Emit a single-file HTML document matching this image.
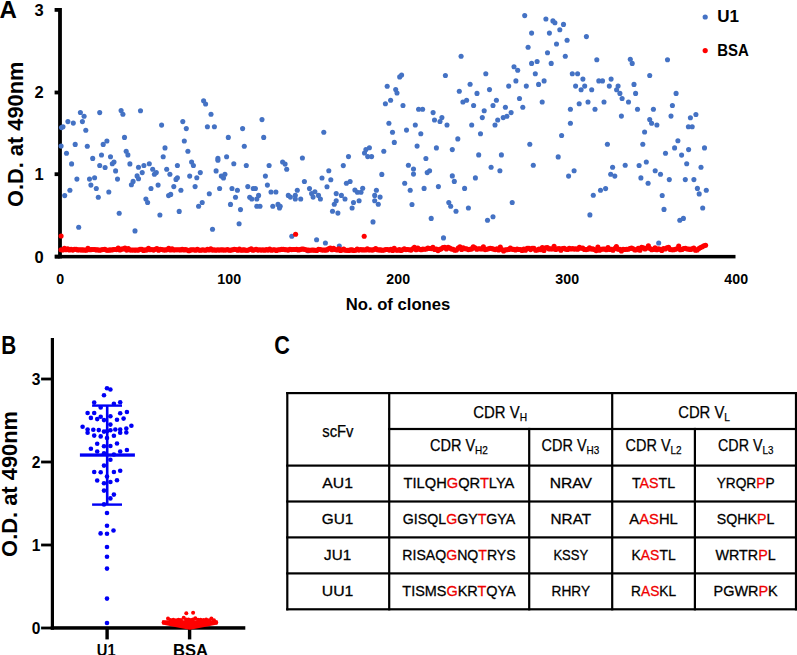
<!DOCTYPE html><html><head><meta charset="utf-8"><style>html,body{margin:0;padding:0;background:#fff;overflow:hidden;}svg{display:block}text{font-family:"Liberation Sans",sans-serif}</style></head><body>
<svg width="797" height="655" viewBox="0 0 797 655">
<rect x="0" y="0" width="797" height="655" fill="#fff"/>
<text x="-0.5" y="17.9" font-size="23.5" font-weight="bold" textLength="17.4" lengthAdjust="spacingAndGlyphs">A</text>
<rect x="58.1" y="8" width="3.8" height="250.4" fill="#000"/>
<rect x="54.6" y="8.0" width="5" height="3.8" fill="#000"/>
<text x="43.6" y="15.8" font-size="16.5" font-weight="bold" text-anchor="end">3</text>
<rect x="54.6" y="90.6" width="5" height="3.8" fill="#000"/>
<text x="43.6" y="98.4" font-size="16.5" font-weight="bold" text-anchor="end">2</text>
<rect x="54.6" y="172.3" width="5" height="3.8" fill="#000"/>
<text x="43.6" y="180.1" font-size="16.5" font-weight="bold" text-anchor="end">1</text>
<rect x="54.6" y="254.7" width="5" height="3.8" fill="#000"/>
<text x="43.6" y="262.5" font-size="16.5" font-weight="bold" text-anchor="end">0</text>
<rect x="55" y="254.9" width="680.5" height="3.5" fill="#000"/>
<text x="60.2" y="283.7" font-size="14.2" font-weight="bold" text-anchor="middle">0</text>
<text x="229.2" y="283.7" font-size="14.2" font-weight="bold" text-anchor="middle">100</text>
<text x="398.2" y="283.7" font-size="14.2" font-weight="bold" text-anchor="middle">200</text>
<text x="567.2" y="283.7" font-size="14.2" font-weight="bold" text-anchor="middle">300</text>
<text x="736.2" y="283.7" font-size="14.2" font-weight="bold" text-anchor="middle">400</text>
<text x="398" y="309.5" font-size="16.5" font-weight="bold" text-anchor="middle" textLength="104.5" lengthAdjust="spacingAndGlyphs">No. of clones</text>
<text transform="translate(22.9,134.3) rotate(-90)" x="0" y="0" font-size="22.9" font-weight="bold" text-anchor="middle" textLength="145.5" lengthAdjust="spacingAndGlyphs">O.D. at 490nm</text>
<circle cx="705.2" cy="17" r="2.6" fill="#4472C4"/>
<circle cx="705.2" cy="50.6" r="2.6" fill="#F00"/>
<text x="717.2" y="22.4" font-size="17" font-weight="bold" textLength="21.8" lengthAdjust="spacingAndGlyphs">U1</text>
<text x="717.2" y="55.9" font-size="16.6" font-weight="bold" textLength="31.6" lengthAdjust="spacingAndGlyphs">BSA</text>
<g fill="#4472C4">
<circle cx="61.5" cy="127.6" r="2.55"/>
<circle cx="63.0" cy="126.7" r="2.55"/>
<circle cx="61.1" cy="146.1" r="2.55"/>
<circle cx="67.9" cy="121.6" r="2.55"/>
<circle cx="73.3" cy="123.1" r="2.55"/>
<circle cx="66.5" cy="153.3" r="2.55"/>
<circle cx="71.6" cy="163.9" r="2.55"/>
<circle cx="75.2" cy="144.4" r="2.55"/>
<circle cx="80.4" cy="112.5" r="2.55"/>
<circle cx="84.1" cy="116.2" r="2.55"/>
<circle cx="82.4" cy="121.6" r="2.55"/>
<circle cx="85.8" cy="130.3" r="2.55"/>
<circle cx="87.3" cy="146.2" r="2.55"/>
<circle cx="76.9" cy="179.1" r="2.55"/>
<circle cx="92.7" cy="158.4" r="2.55"/>
<circle cx="99.7" cy="112.6" r="2.55"/>
<circle cx="89.5" cy="179.1" r="2.55"/>
<circle cx="94.6" cy="177.7" r="2.55"/>
<circle cx="103.2" cy="144.4" r="2.55"/>
<circle cx="106.9" cy="141.0" r="2.55"/>
<circle cx="101.5" cy="155.0" r="2.55"/>
<circle cx="99.7" cy="165.5" r="2.55"/>
<circle cx="105.1" cy="167.5" r="2.55"/>
<circle cx="110.5" cy="156.7" r="2.55"/>
<circle cx="112.3" cy="163.8" r="2.55"/>
<circle cx="114.0" cy="162.0" r="2.55"/>
<circle cx="115.6" cy="170.9" r="2.55"/>
<circle cx="117.5" cy="179.1" r="2.55"/>
<circle cx="121.1" cy="110.6" r="2.55"/>
<circle cx="122.9" cy="114.3" r="2.55"/>
<circle cx="124.5" cy="137.4" r="2.55"/>
<circle cx="126.2" cy="151.2" r="2.55"/>
<circle cx="127.9" cy="154.9" r="2.55"/>
<circle cx="129.9" cy="163.9" r="2.55"/>
<circle cx="138.5" cy="167.3" r="2.55"/>
<circle cx="140.5" cy="110.8" r="2.55"/>
<circle cx="142.2" cy="172.6" r="2.55"/>
<circle cx="143.9" cy="165.5" r="2.55"/>
<circle cx="137.1" cy="175.9" r="2.55"/>
<circle cx="138.5" cy="178.8" r="2.55"/>
<circle cx="149.3" cy="163.8" r="2.55"/>
<circle cx="152.7" cy="169.2" r="2.55"/>
<circle cx="154.4" cy="174.3" r="2.55"/>
<circle cx="156.3" cy="172.6" r="2.55"/>
<circle cx="161.6" cy="125.1" r="2.55"/>
<circle cx="165.0" cy="147.9" r="2.55"/>
<circle cx="163.2" cy="156.7" r="2.55"/>
<circle cx="166.7" cy="169.2" r="2.55"/>
<circle cx="169.9" cy="174.3" r="2.55"/>
<circle cx="64.7" cy="195.6" r="2.55"/>
<circle cx="69.9" cy="190.3" r="2.55"/>
<circle cx="90.9" cy="185.1" r="2.55"/>
<circle cx="96.3" cy="188.5" r="2.55"/>
<circle cx="98.3" cy="197.3" r="2.55"/>
<circle cx="108.8" cy="192.0" r="2.55"/>
<circle cx="78.7" cy="227.3" r="2.55"/>
<circle cx="119.2" cy="213.3" r="2.55"/>
<circle cx="131.4" cy="184.8" r="2.55"/>
<circle cx="133.1" cy="181.4" r="2.55"/>
<circle cx="135.0" cy="230.9" r="2.55"/>
<circle cx="145.9" cy="199.0" r="2.55"/>
<circle cx="147.6" cy="202.5" r="2.55"/>
<circle cx="151.0" cy="188.5" r="2.55"/>
<circle cx="158.1" cy="185.1" r="2.55"/>
<circle cx="159.9" cy="215.0" r="2.55"/>
<circle cx="168.6" cy="195.6" r="2.55"/>
<circle cx="170.7" cy="194.4" r="2.55"/>
<circle cx="203.6" cy="100.7" r="2.55"/>
<circle cx="205.6" cy="104.0" r="2.55"/>
<circle cx="211.0" cy="114.3" r="2.55"/>
<circle cx="182.8" cy="121.6" r="2.55"/>
<circle cx="186.3" cy="128.6" r="2.55"/>
<circle cx="207.4" cy="126.7" r="2.55"/>
<circle cx="214.4" cy="126.7" r="2.55"/>
<circle cx="242.6" cy="128.6" r="2.55"/>
<circle cx="262.0" cy="119.6" r="2.55"/>
<circle cx="228.3" cy="137.4" r="2.55"/>
<circle cx="263.7" cy="137.4" r="2.55"/>
<circle cx="184.3" cy="141.0" r="2.55"/>
<circle cx="244.3" cy="146.2" r="2.55"/>
<circle cx="187.9" cy="151.3" r="2.55"/>
<circle cx="217.9" cy="158.4" r="2.55"/>
<circle cx="217.9" cy="160.3" r="2.55"/>
<circle cx="226.6" cy="156.7" r="2.55"/>
<circle cx="191.6" cy="162.0" r="2.55"/>
<circle cx="193.4" cy="165.5" r="2.55"/>
<circle cx="177.4" cy="165.5" r="2.55"/>
<circle cx="233.8" cy="163.8" r="2.55"/>
<circle cx="246.3" cy="165.5" r="2.55"/>
<circle cx="269.1" cy="165.5" r="2.55"/>
<circle cx="282.6" cy="162.0" r="2.55"/>
<circle cx="176.0" cy="179.4" r="2.55"/>
<circle cx="177.4" cy="177.7" r="2.55"/>
<circle cx="189.7" cy="176.1" r="2.55"/>
<circle cx="196.8" cy="177.7" r="2.55"/>
<circle cx="200.3" cy="172.6" r="2.55"/>
<circle cx="216.1" cy="170.9" r="2.55"/>
<circle cx="221.3" cy="176.1" r="2.55"/>
<circle cx="224.9" cy="174.3" r="2.55"/>
<circle cx="223.5" cy="178.0" r="2.55"/>
<circle cx="265.4" cy="176.1" r="2.55"/>
<circle cx="173.8" cy="186.6" r="2.55"/>
<circle cx="180.9" cy="190.3" r="2.55"/>
<circle cx="195.1" cy="186.6" r="2.55"/>
<circle cx="209.3" cy="193.7" r="2.55"/>
<circle cx="219.6" cy="188.5" r="2.55"/>
<circle cx="232.0" cy="188.5" r="2.55"/>
<circle cx="237.4" cy="190.3" r="2.55"/>
<circle cx="247.8" cy="186.6" r="2.55"/>
<circle cx="253.2" cy="188.5" r="2.55"/>
<circle cx="255.4" cy="188.5" r="2.55"/>
<circle cx="267.4" cy="185.1" r="2.55"/>
<circle cx="271.0" cy="192.0" r="2.55"/>
<circle cx="275.9" cy="192.0" r="2.55"/>
<circle cx="235.5" cy="197.3" r="2.55"/>
<circle cx="249.7" cy="197.3" r="2.55"/>
<circle cx="251.8" cy="199.0" r="2.55"/>
<circle cx="256.8" cy="199.0" r="2.55"/>
<circle cx="258.6" cy="195.4" r="2.55"/>
<circle cx="202.2" cy="202.5" r="2.55"/>
<circle cx="198.6" cy="206.2" r="2.55"/>
<circle cx="230.5" cy="204.4" r="2.55"/>
<circle cx="240.5" cy="209.6" r="2.55"/>
<circle cx="256.8" cy="206.2" r="2.55"/>
<circle cx="260.0" cy="206.2" r="2.55"/>
<circle cx="272.8" cy="206.2" r="2.55"/>
<circle cx="278.0" cy="204.4" r="2.55"/>
<circle cx="280.2" cy="206.2" r="2.55"/>
<circle cx="279.5" cy="207.9" r="2.55"/>
<circle cx="179.2" cy="211.4" r="2.55"/>
<circle cx="239.1" cy="223.8" r="2.55"/>
<circle cx="212.5" cy="229.2" r="2.55"/>
<circle cx="387.2" cy="86.2" r="2.55"/>
<circle cx="395.7" cy="89.6" r="2.55"/>
<circle cx="397.0" cy="93.0" r="2.55"/>
<circle cx="390.6" cy="100.3" r="2.55"/>
<circle cx="385.4" cy="103.8" r="2.55"/>
<circle cx="388.9" cy="123.2" r="2.55"/>
<circle cx="392.5" cy="132.2" r="2.55"/>
<circle cx="394.3" cy="142.4" r="2.55"/>
<circle cx="323.8" cy="132.2" r="2.55"/>
<circle cx="383.8" cy="151.3" r="2.55"/>
<circle cx="348.5" cy="156.6" r="2.55"/>
<circle cx="302.4" cy="158.0" r="2.55"/>
<circle cx="364.5" cy="153.0" r="2.55"/>
<circle cx="365.9" cy="149.5" r="2.55"/>
<circle cx="369.4" cy="147.8" r="2.55"/>
<circle cx="367.7" cy="156.6" r="2.55"/>
<circle cx="371.6" cy="156.6" r="2.55"/>
<circle cx="328.8" cy="170.7" r="2.55"/>
<circle cx="322.0" cy="178.0" r="2.55"/>
<circle cx="330.8" cy="179.7" r="2.55"/>
<circle cx="343.3" cy="165.6" r="2.55"/>
<circle cx="381.8" cy="174.4" r="2.55"/>
<circle cx="304.4" cy="181.5" r="2.55"/>
<circle cx="327.0" cy="186.8" r="2.55"/>
<circle cx="346.4" cy="183.2" r="2.55"/>
<circle cx="350.1" cy="181.5" r="2.55"/>
<circle cx="297.3" cy="190.3" r="2.55"/>
<circle cx="309.5" cy="188.6" r="2.55"/>
<circle cx="288.3" cy="195.4" r="2.55"/>
<circle cx="290.4" cy="197.1" r="2.55"/>
<circle cx="295.3" cy="195.4" r="2.55"/>
<circle cx="295.3" cy="199.0" r="2.55"/>
<circle cx="300.7" cy="199.0" r="2.55"/>
<circle cx="311.6" cy="193.6" r="2.55"/>
<circle cx="314.9" cy="191.7" r="2.55"/>
<circle cx="313.1" cy="197.1" r="2.55"/>
<circle cx="318.5" cy="195.4" r="2.55"/>
<circle cx="320.4" cy="199.0" r="2.55"/>
<circle cx="336.2" cy="193.6" r="2.55"/>
<circle cx="341.4" cy="195.4" r="2.55"/>
<circle cx="345.0" cy="199.0" r="2.55"/>
<circle cx="336.2" cy="200.7" r="2.55"/>
<circle cx="334.3" cy="204.2" r="2.55"/>
<circle cx="332.5" cy="211.3" r="2.55"/>
<circle cx="337.9" cy="213.1" r="2.55"/>
<circle cx="354.9" cy="190.0" r="2.55"/>
<circle cx="357.4" cy="192.2" r="2.55"/>
<circle cx="361.0" cy="192.2" r="2.55"/>
<circle cx="362.7" cy="188.3" r="2.55"/>
<circle cx="353.5" cy="202.5" r="2.55"/>
<circle cx="359.1" cy="200.8" r="2.55"/>
<circle cx="352.1" cy="208.0" r="2.55"/>
<circle cx="376.4" cy="190.3" r="2.55"/>
<circle cx="374.7" cy="195.4" r="2.55"/>
<circle cx="380.1" cy="197.1" r="2.55"/>
<circle cx="374.7" cy="200.7" r="2.55"/>
<circle cx="378.3" cy="204.2" r="2.55"/>
<circle cx="373.0" cy="221.9" r="2.55"/>
<circle cx="291.8" cy="236.2" r="2.55"/>
<circle cx="316.6" cy="239.7" r="2.55"/>
<circle cx="325.4" cy="243.0" r="2.55"/>
<circle cx="308.1" cy="250.8" r="2.55"/>
<circle cx="339.3" cy="246.1" r="2.55"/>
<circle cx="461.1" cy="56.2" r="2.55"/>
<circle cx="445.4" cy="75.5" r="2.55"/>
<circle cx="485.8" cy="73.8" r="2.55"/>
<circle cx="399.7" cy="76.9" r="2.55"/>
<circle cx="401.6" cy="75.1" r="2.55"/>
<circle cx="403.0" cy="105.5" r="2.55"/>
<circle cx="418.6" cy="109.2" r="2.55"/>
<circle cx="422.6" cy="109.2" r="2.55"/>
<circle cx="433.1" cy="112.6" r="2.55"/>
<circle cx="441.9" cy="117.6" r="2.55"/>
<circle cx="459.3" cy="91.2" r="2.55"/>
<circle cx="470.1" cy="84.2" r="2.55"/>
<circle cx="477.0" cy="93.4" r="2.55"/>
<circle cx="489.5" cy="89.6" r="2.55"/>
<circle cx="508.7" cy="86.1" r="2.55"/>
<circle cx="462.9" cy="102.0" r="2.55"/>
<circle cx="466.6" cy="100.2" r="2.55"/>
<circle cx="473.6" cy="105.5" r="2.55"/>
<circle cx="496.4" cy="100.2" r="2.55"/>
<circle cx="493.0" cy="105.5" r="2.55"/>
<circle cx="484.2" cy="110.8" r="2.55"/>
<circle cx="505.4" cy="107.3" r="2.55"/>
<circle cx="482.3" cy="117.6" r="2.55"/>
<circle cx="503.2" cy="117.6" r="2.55"/>
<circle cx="506.9" cy="116.3" r="2.55"/>
<circle cx="434.5" cy="120.0" r="2.55"/>
<circle cx="497.7" cy="120.0" r="2.55"/>
<circle cx="440.0" cy="121.5" r="2.55"/>
<circle cx="495.0" cy="125.0" r="2.55"/>
<circle cx="415.3" cy="125.0" r="2.55"/>
<circle cx="406.5" cy="130.1" r="2.55"/>
<circle cx="420.8" cy="133.8" r="2.55"/>
<circle cx="447.0" cy="125.0" r="2.55"/>
<circle cx="471.7" cy="125.0" r="2.55"/>
<circle cx="480.5" cy="133.8" r="2.55"/>
<circle cx="457.8" cy="138.9" r="2.55"/>
<circle cx="417.1" cy="146.1" r="2.55"/>
<circle cx="436.4" cy="147.9" r="2.55"/>
<circle cx="452.3" cy="149.6" r="2.55"/>
<circle cx="478.7" cy="154.9" r="2.55"/>
<circle cx="501.4" cy="154.9" r="2.55"/>
<circle cx="425.9" cy="158.5" r="2.55"/>
<circle cx="408.4" cy="165.3" r="2.55"/>
<circle cx="413.5" cy="169.0" r="2.55"/>
<circle cx="413.5" cy="174.1" r="2.55"/>
<circle cx="427.2" cy="172.6" r="2.55"/>
<circle cx="429.6" cy="170.8" r="2.55"/>
<circle cx="491.1" cy="167.3" r="2.55"/>
<circle cx="499.9" cy="170.8" r="2.55"/>
<circle cx="452.3" cy="175.9" r="2.55"/>
<circle cx="454.3" cy="181.4" r="2.55"/>
<circle cx="475.4" cy="177.9" r="2.55"/>
<circle cx="404.7" cy="183.3" r="2.55"/>
<circle cx="410.2" cy="190.2" r="2.55"/>
<circle cx="424.1" cy="188.4" r="2.55"/>
<circle cx="438.4" cy="186.6" r="2.55"/>
<circle cx="464.6" cy="188.4" r="2.55"/>
<circle cx="412.0" cy="204.5" r="2.55"/>
<circle cx="448.8" cy="202.5" r="2.55"/>
<circle cx="450.7" cy="206.2" r="2.55"/>
<circle cx="456.0" cy="211.3" r="2.55"/>
<circle cx="468.4" cy="208.0" r="2.55"/>
<circle cx="431.2" cy="218.4" r="2.55"/>
<circle cx="487.5" cy="220.3" r="2.55"/>
<circle cx="493.0" cy="216.8" r="2.55"/>
<circle cx="443.5" cy="237.9" r="2.55"/>
<circle cx="524.7" cy="15.6" r="2.55"/>
<circle cx="545.9" cy="19.0" r="2.55"/>
<circle cx="552.9" cy="20.9" r="2.55"/>
<circle cx="554.9" cy="22.7" r="2.55"/>
<circle cx="563.5" cy="24.4" r="2.55"/>
<circle cx="559.8" cy="29.7" r="2.55"/>
<circle cx="531.6" cy="33.1" r="2.55"/>
<circle cx="549.4" cy="33.1" r="2.55"/>
<circle cx="586.4" cy="36.6" r="2.55"/>
<circle cx="567.1" cy="40.3" r="2.55"/>
<circle cx="556.5" cy="44.0" r="2.55"/>
<circle cx="528.1" cy="47.3" r="2.55"/>
<circle cx="547.5" cy="52.7" r="2.55"/>
<circle cx="565.3" cy="56.2" r="2.55"/>
<circle cx="596.8" cy="59.7" r="2.55"/>
<circle cx="531.6" cy="63.4" r="2.55"/>
<circle cx="537.1" cy="61.5" r="2.55"/>
<circle cx="551.2" cy="63.4" r="2.55"/>
<circle cx="514.0" cy="66.7" r="2.55"/>
<circle cx="517.7" cy="70.3" r="2.55"/>
<circle cx="535.3" cy="73.8" r="2.55"/>
<circle cx="572.3" cy="73.8" r="2.55"/>
<circle cx="577.6" cy="73.8" r="2.55"/>
<circle cx="582.9" cy="79.1" r="2.55"/>
<circle cx="515.9" cy="80.9" r="2.55"/>
<circle cx="544.1" cy="80.9" r="2.55"/>
<circle cx="538.6" cy="84.4" r="2.55"/>
<circle cx="526.3" cy="86.1" r="2.55"/>
<circle cx="575.6" cy="86.1" r="2.55"/>
<circle cx="584.7" cy="86.1" r="2.55"/>
<circle cx="581.1" cy="89.7" r="2.55"/>
<circle cx="591.7" cy="89.7" r="2.55"/>
<circle cx="598.8" cy="80.9" r="2.55"/>
<circle cx="602.5" cy="80.9" r="2.55"/>
<circle cx="611.1" cy="79.1" r="2.55"/>
<circle cx="609.3" cy="86.1" r="2.55"/>
<circle cx="618.1" cy="86.1" r="2.55"/>
<circle cx="616.6" cy="89.7" r="2.55"/>
<circle cx="619.9" cy="93.4" r="2.55"/>
<circle cx="622.1" cy="98.5" r="2.55"/>
<circle cx="519.5" cy="98.5" r="2.55"/>
<circle cx="542.2" cy="102.0" r="2.55"/>
<circle cx="522.8" cy="107.3" r="2.55"/>
<circle cx="511.1" cy="112.6" r="2.55"/>
<circle cx="579.2" cy="103.8" r="2.55"/>
<circle cx="588.0" cy="102.0" r="2.55"/>
<circle cx="604.0" cy="102.0" r="2.55"/>
<circle cx="570.4" cy="109.2" r="2.55"/>
<circle cx="595.0" cy="109.2" r="2.55"/>
<circle cx="621.4" cy="116.1" r="2.55"/>
<circle cx="570.4" cy="123.2" r="2.55"/>
<circle cx="561.6" cy="135.5" r="2.55"/>
<circle cx="529.8" cy="144.2" r="2.55"/>
<circle cx="607.4" cy="144.2" r="2.55"/>
<circle cx="558.2" cy="156.9" r="2.55"/>
<circle cx="533.3" cy="165.3" r="2.55"/>
<circle cx="574.1" cy="170.8" r="2.55"/>
<circle cx="568.6" cy="176.1" r="2.55"/>
<circle cx="612.6" cy="167.3" r="2.55"/>
<circle cx="610.7" cy="174.3" r="2.55"/>
<circle cx="614.8" cy="176.1" r="2.55"/>
<circle cx="600.5" cy="190.2" r="2.55"/>
<circle cx="605.6" cy="188.6" r="2.55"/>
<circle cx="593.3" cy="195.3" r="2.55"/>
<circle cx="512.2" cy="202.5" r="2.55"/>
<circle cx="589.9" cy="214.9" r="2.55"/>
<circle cx="630.3" cy="59.3" r="2.55"/>
<circle cx="632.2" cy="63.4" r="2.55"/>
<circle cx="667.5" cy="59.7" r="2.55"/>
<circle cx="649.7" cy="75.5" r="2.55"/>
<circle cx="634.0" cy="84.4" r="2.55"/>
<circle cx="635.6" cy="93.4" r="2.55"/>
<circle cx="676.1" cy="93.4" r="2.55"/>
<circle cx="628.5" cy="102.0" r="2.55"/>
<circle cx="672.4" cy="105.5" r="2.55"/>
<circle cx="637.5" cy="109.2" r="2.55"/>
<circle cx="653.4" cy="109.2" r="2.55"/>
<circle cx="671.0" cy="116.1" r="2.55"/>
<circle cx="695.9" cy="114.5" r="2.55"/>
<circle cx="690.4" cy="117.8" r="2.55"/>
<circle cx="649.7" cy="119.5" r="2.55"/>
<circle cx="651.6" cy="123.2" r="2.55"/>
<circle cx="656.9" cy="125.0" r="2.55"/>
<circle cx="644.6" cy="132.0" r="2.55"/>
<circle cx="688.4" cy="126.8" r="2.55"/>
<circle cx="692.2" cy="126.8" r="2.55"/>
<circle cx="677.9" cy="140.8" r="2.55"/>
<circle cx="642.8" cy="144.2" r="2.55"/>
<circle cx="674.6" cy="147.9" r="2.55"/>
<circle cx="665.5" cy="153.2" r="2.55"/>
<circle cx="688.6" cy="149.6" r="2.55"/>
<circle cx="681.6" cy="155.1" r="2.55"/>
<circle cx="704.5" cy="147.9" r="2.55"/>
<circle cx="625.2" cy="165.3" r="2.55"/>
<circle cx="639.1" cy="165.5" r="2.55"/>
<circle cx="646.3" cy="162.0" r="2.55"/>
<circle cx="686.7" cy="163.8" r="2.55"/>
<circle cx="701.0" cy="167.3" r="2.55"/>
<circle cx="655.2" cy="170.8" r="2.55"/>
<circle cx="660.5" cy="174.3" r="2.55"/>
<circle cx="640.9" cy="177.9" r="2.55"/>
<circle cx="648.1" cy="183.3" r="2.55"/>
<circle cx="669.3" cy="179.6" r="2.55"/>
<circle cx="685.3" cy="179.6" r="2.55"/>
<circle cx="693.9" cy="179.6" r="2.55"/>
<circle cx="697.4" cy="188.4" r="2.55"/>
<circle cx="699.2" cy="193.9" r="2.55"/>
<circle cx="706.3" cy="190.2" r="2.55"/>
<circle cx="662.2" cy="195.5" r="2.55"/>
<circle cx="664.0" cy="209.4" r="2.55"/>
<circle cx="702.7" cy="208.0" r="2.55"/>
<circle cx="679.8" cy="220.3" r="2.55"/>
<circle cx="683.4" cy="218.4" r="2.55"/>
<circle cx="658.7" cy="243.0" r="2.55"/>
<circle cx="285.1" cy="164.1" r="2.55"/>
<circle cx="286.7" cy="169.3" r="2.55"/>
</g>
<g fill="#F00">
<circle cx="61.0" cy="249.7" r="2.55"/>
<circle cx="62.7" cy="250.0" r="2.55"/>
<circle cx="64.4" cy="248.2" r="2.55"/>
<circle cx="66.0" cy="249.7" r="2.55"/>
<circle cx="67.7" cy="248.9" r="2.55"/>
<circle cx="69.4" cy="249.9" r="2.55"/>
<circle cx="71.1" cy="249.2" r="2.55"/>
<circle cx="72.8" cy="250.1" r="2.55"/>
<circle cx="74.5" cy="249.2" r="2.55"/>
<circle cx="76.1" cy="249.2" r="2.55"/>
<circle cx="77.8" cy="249.9" r="2.55"/>
<circle cx="79.5" cy="249.8" r="2.55"/>
<circle cx="81.2" cy="249.9" r="2.55"/>
<circle cx="82.9" cy="249.9" r="2.55"/>
<circle cx="84.6" cy="250.0" r="2.55"/>
<circle cx="86.2" cy="250.2" r="2.55"/>
<circle cx="87.9" cy="248.4" r="2.55"/>
<circle cx="89.6" cy="249.8" r="2.55"/>
<circle cx="91.3" cy="249.6" r="2.55"/>
<circle cx="93.0" cy="249.5" r="2.55"/>
<circle cx="94.7" cy="249.5" r="2.55"/>
<circle cx="96.3" cy="249.9" r="2.55"/>
<circle cx="98.0" cy="249.8" r="2.55"/>
<circle cx="99.7" cy="250.3" r="2.55"/>
<circle cx="101.4" cy="249.8" r="2.55"/>
<circle cx="103.1" cy="249.5" r="2.55"/>
<circle cx="104.8" cy="249.3" r="2.55"/>
<circle cx="106.4" cy="250.1" r="2.55"/>
<circle cx="108.1" cy="250.3" r="2.55"/>
<circle cx="109.8" cy="249.9" r="2.55"/>
<circle cx="111.5" cy="250.0" r="2.55"/>
<circle cx="113.2" cy="249.6" r="2.55"/>
<circle cx="114.9" cy="249.5" r="2.55"/>
<circle cx="116.5" cy="249.6" r="2.55"/>
<circle cx="118.2" cy="248.0" r="2.55"/>
<circle cx="119.9" cy="249.9" r="2.55"/>
<circle cx="121.6" cy="249.1" r="2.55"/>
<circle cx="123.3" cy="248.9" r="2.55"/>
<circle cx="125.0" cy="248.1" r="2.55"/>
<circle cx="126.6" cy="250.1" r="2.55"/>
<circle cx="128.3" cy="248.6" r="2.55"/>
<circle cx="130.0" cy="250.0" r="2.55"/>
<circle cx="131.7" cy="250.0" r="2.55"/>
<circle cx="133.4" cy="250.0" r="2.55"/>
<circle cx="135.1" cy="250.1" r="2.55"/>
<circle cx="136.7" cy="250.0" r="2.55"/>
<circle cx="138.4" cy="250.1" r="2.55"/>
<circle cx="140.1" cy="249.2" r="2.55"/>
<circle cx="141.8" cy="249.3" r="2.55"/>
<circle cx="143.5" cy="250.4" r="2.55"/>
<circle cx="145.2" cy="249.9" r="2.55"/>
<circle cx="146.8" cy="250.0" r="2.55"/>
<circle cx="148.5" cy="248.3" r="2.55"/>
<circle cx="150.2" cy="249.7" r="2.55"/>
<circle cx="151.9" cy="249.5" r="2.55"/>
<circle cx="153.6" cy="250.1" r="2.55"/>
<circle cx="155.2" cy="249.3" r="2.55"/>
<circle cx="156.9" cy="248.5" r="2.55"/>
<circle cx="158.6" cy="250.3" r="2.55"/>
<circle cx="160.3" cy="249.4" r="2.55"/>
<circle cx="162.0" cy="249.5" r="2.55"/>
<circle cx="163.7" cy="250.0" r="2.55"/>
<circle cx="165.3" cy="249.9" r="2.55"/>
<circle cx="167.0" cy="249.8" r="2.55"/>
<circle cx="168.7" cy="248.4" r="2.55"/>
<circle cx="170.4" cy="249.9" r="2.55"/>
<circle cx="172.1" cy="248.8" r="2.55"/>
<circle cx="173.8" cy="250.0" r="2.55"/>
<circle cx="175.4" cy="249.7" r="2.55"/>
<circle cx="177.1" cy="249.7" r="2.55"/>
<circle cx="178.8" cy="249.7" r="2.55"/>
<circle cx="180.5" cy="249.9" r="2.55"/>
<circle cx="182.2" cy="249.4" r="2.55"/>
<circle cx="183.9" cy="249.9" r="2.55"/>
<circle cx="185.5" cy="249.6" r="2.55"/>
<circle cx="187.2" cy="250.0" r="2.55"/>
<circle cx="188.9" cy="250.7" r="2.55"/>
<circle cx="190.6" cy="249.9" r="2.55"/>
<circle cx="192.3" cy="249.7" r="2.55"/>
<circle cx="194.0" cy="249.8" r="2.55"/>
<circle cx="195.6" cy="250.2" r="2.55"/>
<circle cx="197.3" cy="249.4" r="2.55"/>
<circle cx="199.0" cy="250.1" r="2.55"/>
<circle cx="200.7" cy="250.3" r="2.55"/>
<circle cx="202.4" cy="249.7" r="2.55"/>
<circle cx="204.1" cy="250.0" r="2.55"/>
<circle cx="205.7" cy="250.2" r="2.55"/>
<circle cx="207.4" cy="249.3" r="2.55"/>
<circle cx="209.1" cy="249.9" r="2.55"/>
<circle cx="210.8" cy="248.9" r="2.55"/>
<circle cx="212.5" cy="250.1" r="2.55"/>
<circle cx="214.2" cy="249.8" r="2.55"/>
<circle cx="215.8" cy="250.2" r="2.55"/>
<circle cx="217.5" cy="249.7" r="2.55"/>
<circle cx="219.2" cy="250.1" r="2.55"/>
<circle cx="220.9" cy="249.7" r="2.55"/>
<circle cx="222.6" cy="249.9" r="2.55"/>
<circle cx="224.3" cy="250.0" r="2.55"/>
<circle cx="225.9" cy="250.0" r="2.55"/>
<circle cx="227.6" cy="249.5" r="2.55"/>
<circle cx="229.3" cy="250.2" r="2.55"/>
<circle cx="231.0" cy="250.1" r="2.55"/>
<circle cx="232.7" cy="249.8" r="2.55"/>
<circle cx="234.3" cy="249.4" r="2.55"/>
<circle cx="236.0" cy="249.5" r="2.55"/>
<circle cx="237.7" cy="250.3" r="2.55"/>
<circle cx="239.4" cy="249.1" r="2.55"/>
<circle cx="241.1" cy="250.3" r="2.55"/>
<circle cx="242.8" cy="249.9" r="2.55"/>
<circle cx="244.4" cy="249.9" r="2.55"/>
<circle cx="246.1" cy="250.2" r="2.55"/>
<circle cx="247.8" cy="250.3" r="2.55"/>
<circle cx="249.5" cy="249.5" r="2.55"/>
<circle cx="251.2" cy="248.9" r="2.55"/>
<circle cx="252.9" cy="250.3" r="2.55"/>
<circle cx="254.5" cy="249.7" r="2.55"/>
<circle cx="256.2" cy="249.2" r="2.55"/>
<circle cx="257.9" cy="250.1" r="2.55"/>
<circle cx="259.6" cy="249.8" r="2.55"/>
<circle cx="261.3" cy="250.1" r="2.55"/>
<circle cx="263.0" cy="249.8" r="2.55"/>
<circle cx="264.6" cy="250.2" r="2.55"/>
<circle cx="266.3" cy="249.6" r="2.55"/>
<circle cx="268.0" cy="250.1" r="2.55"/>
<circle cx="269.7" cy="249.1" r="2.55"/>
<circle cx="271.4" cy="250.2" r="2.55"/>
<circle cx="273.1" cy="249.7" r="2.55"/>
<circle cx="274.7" cy="249.8" r="2.55"/>
<circle cx="276.4" cy="250.4" r="2.55"/>
<circle cx="278.1" cy="249.8" r="2.55"/>
<circle cx="279.8" cy="249.7" r="2.55"/>
<circle cx="281.5" cy="249.4" r="2.55"/>
<circle cx="283.2" cy="249.2" r="2.55"/>
<circle cx="284.8" cy="249.6" r="2.55"/>
<circle cx="286.5" cy="249.8" r="2.55"/>
<circle cx="288.2" cy="250.1" r="2.55"/>
<circle cx="289.9" cy="249.3" r="2.55"/>
<circle cx="291.6" cy="249.6" r="2.55"/>
<circle cx="293.3" cy="249.5" r="2.55"/>
<circle cx="294.9" cy="249.5" r="2.55"/>
<circle cx="296.6" cy="249.4" r="2.55"/>
<circle cx="298.3" cy="249.9" r="2.55"/>
<circle cx="300.0" cy="249.6" r="2.55"/>
<circle cx="301.7" cy="249.1" r="2.55"/>
<circle cx="303.4" cy="249.0" r="2.55"/>
<circle cx="305.0" cy="249.5" r="2.55"/>
<circle cx="306.7" cy="250.1" r="2.55"/>
<circle cx="308.4" cy="250.1" r="2.55"/>
<circle cx="310.1" cy="250.3" r="2.55"/>
<circle cx="311.8" cy="250.0" r="2.55"/>
<circle cx="313.5" cy="250.1" r="2.55"/>
<circle cx="315.1" cy="250.3" r="2.55"/>
<circle cx="316.8" cy="250.5" r="2.55"/>
<circle cx="318.5" cy="249.2" r="2.55"/>
<circle cx="320.2" cy="249.5" r="2.55"/>
<circle cx="321.9" cy="250.0" r="2.55"/>
<circle cx="323.5" cy="250.0" r="2.55"/>
<circle cx="325.2" cy="250.1" r="2.55"/>
<circle cx="326.9" cy="249.9" r="2.55"/>
<circle cx="328.6" cy="248.8" r="2.55"/>
<circle cx="330.3" cy="248.1" r="2.55"/>
<circle cx="332.0" cy="249.7" r="2.55"/>
<circle cx="333.6" cy="248.2" r="2.55"/>
<circle cx="335.3" cy="249.5" r="2.55"/>
<circle cx="337.0" cy="250.0" r="2.55"/>
<circle cx="338.7" cy="248.9" r="2.55"/>
<circle cx="340.4" cy="250.4" r="2.55"/>
<circle cx="342.1" cy="249.9" r="2.55"/>
<circle cx="343.7" cy="249.1" r="2.55"/>
<circle cx="345.4" cy="250.2" r="2.55"/>
<circle cx="347.1" cy="250.3" r="2.55"/>
<circle cx="348.8" cy="250.4" r="2.55"/>
<circle cx="350.5" cy="249.9" r="2.55"/>
<circle cx="352.2" cy="249.9" r="2.55"/>
<circle cx="353.8" cy="250.5" r="2.55"/>
<circle cx="355.5" cy="250.2" r="2.55"/>
<circle cx="357.2" cy="249.1" r="2.55"/>
<circle cx="358.9" cy="250.1" r="2.55"/>
<circle cx="360.6" cy="249.5" r="2.55"/>
<circle cx="362.3" cy="249.9" r="2.55"/>
<circle cx="363.9" cy="249.8" r="2.55"/>
<circle cx="365.6" cy="250.0" r="2.55"/>
<circle cx="367.3" cy="248.7" r="2.55"/>
<circle cx="369.0" cy="249.9" r="2.55"/>
<circle cx="370.7" cy="249.7" r="2.55"/>
<circle cx="372.4" cy="250.1" r="2.55"/>
<circle cx="374.0" cy="249.6" r="2.55"/>
<circle cx="375.7" cy="248.5" r="2.55"/>
<circle cx="377.4" cy="249.8" r="2.55"/>
<circle cx="379.1" cy="249.9" r="2.55"/>
<circle cx="380.8" cy="249.9" r="2.55"/>
<circle cx="382.5" cy="250.2" r="2.55"/>
<circle cx="384.1" cy="250.0" r="2.55"/>
<circle cx="385.8" cy="249.5" r="2.55"/>
<circle cx="387.5" cy="249.5" r="2.55"/>
<circle cx="389.2" cy="250.1" r="2.55"/>
<circle cx="390.9" cy="249.4" r="2.55"/>
<circle cx="392.6" cy="250.4" r="2.55"/>
<circle cx="394.2" cy="248.2" r="2.55"/>
<circle cx="395.9" cy="250.0" r="2.55"/>
<circle cx="397.6" cy="250.3" r="2.55"/>
<circle cx="399.3" cy="249.6" r="2.55"/>
<circle cx="401.0" cy="250.4" r="2.55"/>
<circle cx="402.6" cy="249.8" r="2.55"/>
<circle cx="404.3" cy="248.9" r="2.55"/>
<circle cx="406.0" cy="249.6" r="2.55"/>
<circle cx="407.7" cy="249.5" r="2.55"/>
<circle cx="409.4" cy="249.8" r="2.55"/>
<circle cx="411.1" cy="250.1" r="2.55"/>
<circle cx="412.7" cy="248.8" r="2.55"/>
<circle cx="414.4" cy="247.3" r="2.55"/>
<circle cx="416.1" cy="249.7" r="2.55"/>
<circle cx="417.8" cy="248.0" r="2.55"/>
<circle cx="419.5" cy="249.2" r="2.55"/>
<circle cx="421.2" cy="249.7" r="2.55"/>
<circle cx="422.8" cy="249.0" r="2.55"/>
<circle cx="424.5" cy="249.2" r="2.55"/>
<circle cx="426.2" cy="249.0" r="2.55"/>
<circle cx="427.9" cy="248.1" r="2.55"/>
<circle cx="429.6" cy="248.5" r="2.55"/>
<circle cx="431.3" cy="248.6" r="2.55"/>
<circle cx="432.9" cy="247.3" r="2.55"/>
<circle cx="434.6" cy="249.5" r="2.55"/>
<circle cx="436.3" cy="249.0" r="2.55"/>
<circle cx="438.0" cy="250.6" r="2.55"/>
<circle cx="439.7" cy="249.4" r="2.55"/>
<circle cx="441.4" cy="248.8" r="2.55"/>
<circle cx="443.0" cy="247.5" r="2.55"/>
<circle cx="444.7" cy="247.4" r="2.55"/>
<circle cx="446.4" cy="249.0" r="2.55"/>
<circle cx="448.1" cy="247.4" r="2.55"/>
<circle cx="449.8" cy="248.1" r="2.55"/>
<circle cx="451.5" cy="249.0" r="2.55"/>
<circle cx="453.1" cy="249.2" r="2.55"/>
<circle cx="454.8" cy="250.3" r="2.55"/>
<circle cx="456.5" cy="250.0" r="2.55"/>
<circle cx="458.2" cy="248.1" r="2.55"/>
<circle cx="459.9" cy="246.7" r="2.55"/>
<circle cx="461.6" cy="249.4" r="2.55"/>
<circle cx="463.2" cy="247.7" r="2.55"/>
<circle cx="464.9" cy="248.8" r="2.55"/>
<circle cx="466.6" cy="248.7" r="2.55"/>
<circle cx="468.3" cy="249.6" r="2.55"/>
<circle cx="470.0" cy="249.3" r="2.55"/>
<circle cx="471.7" cy="248.9" r="2.55"/>
<circle cx="473.3" cy="246.7" r="2.55"/>
<circle cx="475.0" cy="247.7" r="2.55"/>
<circle cx="476.7" cy="249.2" r="2.55"/>
<circle cx="478.4" cy="248.8" r="2.55"/>
<circle cx="480.1" cy="248.7" r="2.55"/>
<circle cx="481.8" cy="249.0" r="2.55"/>
<circle cx="483.4" cy="246.9" r="2.55"/>
<circle cx="485.1" cy="249.6" r="2.55"/>
<circle cx="486.8" cy="249.3" r="2.55"/>
<circle cx="488.5" cy="248.7" r="2.55"/>
<circle cx="490.2" cy="248.4" r="2.55"/>
<circle cx="491.8" cy="248.6" r="2.55"/>
<circle cx="493.5" cy="249.1" r="2.55"/>
<circle cx="495.2" cy="249.6" r="2.55"/>
<circle cx="496.9" cy="248.7" r="2.55"/>
<circle cx="498.6" cy="249.9" r="2.55"/>
<circle cx="500.3" cy="247.0" r="2.55"/>
<circle cx="501.9" cy="249.5" r="2.55"/>
<circle cx="503.6" cy="251.0" r="2.55"/>
<circle cx="505.3" cy="249.7" r="2.55"/>
<circle cx="507.0" cy="249.8" r="2.55"/>
<circle cx="508.7" cy="249.4" r="2.55"/>
<circle cx="510.4" cy="248.1" r="2.55"/>
<circle cx="512.0" cy="249.2" r="2.55"/>
<circle cx="513.7" cy="249.4" r="2.55"/>
<circle cx="515.4" cy="250.0" r="2.55"/>
<circle cx="517.1" cy="249.0" r="2.55"/>
<circle cx="518.8" cy="249.5" r="2.55"/>
<circle cx="520.5" cy="249.6" r="2.55"/>
<circle cx="522.1" cy="250.4" r="2.55"/>
<circle cx="523.8" cy="249.0" r="2.55"/>
<circle cx="525.5" cy="250.2" r="2.55"/>
<circle cx="527.2" cy="248.4" r="2.55"/>
<circle cx="528.9" cy="248.4" r="2.55"/>
<circle cx="530.6" cy="249.6" r="2.55"/>
<circle cx="532.2" cy="248.4" r="2.55"/>
<circle cx="533.9" cy="248.3" r="2.55"/>
<circle cx="535.6" cy="250.3" r="2.55"/>
<circle cx="537.3" cy="250.0" r="2.55"/>
<circle cx="539.0" cy="249.0" r="2.55"/>
<circle cx="540.7" cy="249.7" r="2.55"/>
<circle cx="542.3" cy="247.5" r="2.55"/>
<circle cx="544.0" cy="250.5" r="2.55"/>
<circle cx="545.7" cy="247.7" r="2.55"/>
<circle cx="547.4" cy="247.6" r="2.55"/>
<circle cx="549.1" cy="248.9" r="2.55"/>
<circle cx="550.8" cy="248.7" r="2.55"/>
<circle cx="552.4" cy="249.0" r="2.55"/>
<circle cx="554.1" cy="246.4" r="2.55"/>
<circle cx="555.8" cy="249.4" r="2.55"/>
<circle cx="557.5" cy="248.8" r="2.55"/>
<circle cx="559.2" cy="248.6" r="2.55"/>
<circle cx="560.9" cy="250.3" r="2.55"/>
<circle cx="562.5" cy="248.6" r="2.55"/>
<circle cx="564.2" cy="248.4" r="2.55"/>
<circle cx="565.9" cy="249.3" r="2.55"/>
<circle cx="567.6" cy="249.4" r="2.55"/>
<circle cx="569.3" cy="248.4" r="2.55"/>
<circle cx="570.9" cy="249.0" r="2.55"/>
<circle cx="572.6" cy="248.6" r="2.55"/>
<circle cx="574.3" cy="249.1" r="2.55"/>
<circle cx="576.0" cy="248.8" r="2.55"/>
<circle cx="577.7" cy="249.3" r="2.55"/>
<circle cx="579.4" cy="247.4" r="2.55"/>
<circle cx="581.0" cy="248.2" r="2.55"/>
<circle cx="582.7" cy="248.1" r="2.55"/>
<circle cx="584.4" cy="249.5" r="2.55"/>
<circle cx="586.1" cy="249.6" r="2.55"/>
<circle cx="587.8" cy="249.3" r="2.55"/>
<circle cx="589.5" cy="247.8" r="2.55"/>
<circle cx="591.1" cy="249.0" r="2.55"/>
<circle cx="592.8" cy="248.9" r="2.55"/>
<circle cx="594.5" cy="249.6" r="2.55"/>
<circle cx="596.2" cy="250.6" r="2.55"/>
<circle cx="597.9" cy="247.1" r="2.55"/>
<circle cx="599.6" cy="250.3" r="2.55"/>
<circle cx="601.2" cy="249.3" r="2.55"/>
<circle cx="602.9" cy="249.0" r="2.55"/>
<circle cx="604.6" cy="249.0" r="2.55"/>
<circle cx="606.3" cy="249.8" r="2.55"/>
<circle cx="608.0" cy="247.5" r="2.55"/>
<circle cx="609.7" cy="249.4" r="2.55"/>
<circle cx="611.3" cy="249.3" r="2.55"/>
<circle cx="613.0" cy="250.3" r="2.55"/>
<circle cx="614.7" cy="248.5" r="2.55"/>
<circle cx="616.4" cy="246.6" r="2.55"/>
<circle cx="618.1" cy="249.3" r="2.55"/>
<circle cx="619.8" cy="249.2" r="2.55"/>
<circle cx="621.4" cy="250.9" r="2.55"/>
<circle cx="623.1" cy="249.4" r="2.55"/>
<circle cx="624.8" cy="249.5" r="2.55"/>
<circle cx="626.5" cy="249.2" r="2.55"/>
<circle cx="628.2" cy="249.2" r="2.55"/>
<circle cx="629.9" cy="248.5" r="2.55"/>
<circle cx="631.5" cy="248.0" r="2.55"/>
<circle cx="633.2" cy="248.7" r="2.55"/>
<circle cx="634.9" cy="249.9" r="2.55"/>
<circle cx="636.6" cy="249.7" r="2.55"/>
<circle cx="638.3" cy="248.4" r="2.55"/>
<circle cx="640.0" cy="250.3" r="2.55"/>
<circle cx="641.6" cy="247.3" r="2.55"/>
<circle cx="643.3" cy="247.7" r="2.55"/>
<circle cx="645.0" cy="249.0" r="2.55"/>
<circle cx="646.7" cy="248.0" r="2.55"/>
<circle cx="648.4" cy="245.9" r="2.55"/>
<circle cx="650.1" cy="248.5" r="2.55"/>
<circle cx="651.7" cy="249.8" r="2.55"/>
<circle cx="653.4" cy="249.4" r="2.55"/>
<circle cx="655.1" cy="247.7" r="2.55"/>
<circle cx="656.8" cy="249.7" r="2.55"/>
<circle cx="658.5" cy="248.9" r="2.55"/>
<circle cx="660.1" cy="249.3" r="2.55"/>
<circle cx="661.8" cy="250.4" r="2.55"/>
<circle cx="663.5" cy="248.5" r="2.55"/>
<circle cx="665.2" cy="249.0" r="2.55"/>
<circle cx="666.9" cy="247.9" r="2.55"/>
<circle cx="668.6" cy="247.2" r="2.55"/>
<circle cx="670.2" cy="249.5" r="2.55"/>
<circle cx="671.9" cy="249.8" r="2.55"/>
<circle cx="673.6" cy="249.8" r="2.55"/>
<circle cx="675.3" cy="249.3" r="2.55"/>
<circle cx="677.0" cy="248.7" r="2.55"/>
<circle cx="678.7" cy="246.1" r="2.55"/>
<circle cx="680.3" cy="249.8" r="2.55"/>
<circle cx="682.0" cy="249.4" r="2.55"/>
<circle cx="683.7" cy="248.6" r="2.55"/>
<circle cx="685.4" cy="248.3" r="2.55"/>
<circle cx="687.1" cy="249.0" r="2.55"/>
<circle cx="688.8" cy="249.1" r="2.55"/>
<circle cx="690.4" cy="249.4" r="2.55"/>
<circle cx="692.1" cy="248.9" r="2.55"/>
<circle cx="693.8" cy="248.0" r="2.55"/>
<circle cx="695.5" cy="250.2" r="2.55"/>
<circle cx="697.2" cy="249.9" r="2.55"/>
<circle cx="698.9" cy="248.5" r="2.55"/>
<circle cx="700.5" cy="247.5" r="2.55"/>
<circle cx="702.2" cy="246.8" r="2.55"/>
<circle cx="703.9" cy="245.8" r="2.55"/>
<circle cx="705.6" cy="245.2" r="2.55"/>
<circle cx="61.1" cy="236.0" r="2.55"/>
<circle cx="295.6" cy="234.3" r="2.55"/>
<circle cx="364.2" cy="236.2" r="2.55"/>
</g>
<text x="1.3" y="353.8" font-size="25" font-weight="bold" textLength="15" lengthAdjust="spacingAndGlyphs">B</text>
<rect x="50.8" y="338" width="3.2" height="291.7" fill="#000"/>
<rect x="41.1" y="377.6" width="10" height="2.8" fill="#000"/>
<text x="40.4" y="384.6" font-size="15.6" font-weight="bold" text-anchor="end">3</text>
<rect x="41.1" y="460.6" width="10" height="2.8" fill="#000"/>
<text x="40.4" y="467.6" font-size="15.6" font-weight="bold" text-anchor="end">2</text>
<rect x="41.1" y="543.6" width="10" height="2.8" fill="#000"/>
<text x="40.4" y="550.6" font-size="15.6" font-weight="bold" text-anchor="end">1</text>
<rect x="41.1" y="626.6" width="10" height="2.8" fill="#000"/>
<text x="40.4" y="633.6" font-size="15.6" font-weight="bold" text-anchor="end">0</text>
<rect x="50.8" y="626.2" width="194.5" height="3.5" fill="#000"/>
<rect x="105.4" y="629" width="3.4" height="10.4" fill="#000"/>
<rect x="187.9" y="629" width="3.4" height="10.4" fill="#000"/>
<text x="106.2" y="655.6" font-size="16.5" font-weight="bold" text-anchor="middle" textLength="18.8" lengthAdjust="spacingAndGlyphs">U1</text>
<text x="190.5" y="655.6" font-size="16.5" font-weight="bold" text-anchor="middle" textLength="35" lengthAdjust="spacingAndGlyphs">BSA</text>
<text transform="translate(16.9,483.9) rotate(-90)" x="0" y="0" font-size="22.9" font-weight="bold" text-anchor="middle" textLength="146" lengthAdjust="spacingAndGlyphs">O.D. at 490nm</text>
<g fill="#0000F5">
<rect x="105.9" y="405" width="2.6" height="100" />
<rect x="92.1" y="404.4" width="29.9" height="2.4" />
<rect x="92.1" y="503.4" width="29.9" height="2.4" />
<rect x="79.9" y="453.4" width="55" height="3.3" />
<circle cx="107.0" cy="388.3" r="2.3"/>
<circle cx="110.4" cy="389.5" r="2.3"/>
<circle cx="104.0" cy="395.3" r="2.3"/>
<circle cx="94.2" cy="402.6" r="2.3"/>
<circle cx="113.9" cy="403.8" r="2.3"/>
<circle cx="120.2" cy="402.2" r="2.3"/>
<circle cx="100.7" cy="407.5" r="2.3"/>
<circle cx="87.6" cy="413.0" r="2.3"/>
<circle cx="94.2" cy="413.0" r="2.3"/>
<circle cx="120.2" cy="413.2" r="2.3"/>
<circle cx="126.9" cy="412.0" r="2.3"/>
<circle cx="90.9" cy="417.9" r="2.3"/>
<circle cx="97.2" cy="419.1" r="2.3"/>
<circle cx="100.7" cy="416.7" r="2.3"/>
<circle cx="104.0" cy="420.1" r="2.3"/>
<circle cx="110.4" cy="416.3" r="2.3"/>
<circle cx="117.0" cy="419.7" r="2.3"/>
<circle cx="123.6" cy="418.6" r="2.3"/>
<circle cx="110.4" cy="424.6" r="2.3"/>
<circle cx="82.6" cy="426.8" r="2.3"/>
<circle cx="131.4" cy="425.8" r="2.3"/>
<circle cx="87.6" cy="429.5" r="2.3"/>
<circle cx="87.6" cy="432.8" r="2.3"/>
<circle cx="93.3" cy="429.7" r="2.3"/>
<circle cx="98.8" cy="430.1" r="2.3"/>
<circle cx="104.0" cy="431.6" r="2.3"/>
<circle cx="110.4" cy="430.3" r="2.3"/>
<circle cx="115.3" cy="429.5" r="2.3"/>
<circle cx="120.2" cy="429.5" r="2.3"/>
<circle cx="120.2" cy="432.8" r="2.3"/>
<circle cx="126.3" cy="428.6" r="2.3"/>
<circle cx="126.3" cy="432.5" r="2.3"/>
<circle cx="94.2" cy="435.6" r="2.3"/>
<circle cx="100.7" cy="436.4" r="2.3"/>
<circle cx="107.0" cy="438.0" r="2.3"/>
<circle cx="113.9" cy="435.8" r="2.3"/>
<circle cx="97.2" cy="443.8" r="2.3"/>
<circle cx="104.0" cy="446.2" r="2.3"/>
<circle cx="110.4" cy="446.0" r="2.3"/>
<circle cx="117.0" cy="443.5" r="2.3"/>
<circle cx="90.9" cy="448.7" r="2.3"/>
<circle cx="97.2" cy="451.5" r="2.3"/>
<circle cx="104.0" cy="453.3" r="2.3"/>
<circle cx="113.9" cy="454.5" r="2.3"/>
<circle cx="120.2" cy="451.5" r="2.3"/>
<circle cx="126.9" cy="450.0" r="2.3"/>
<circle cx="107.0" cy="431.3" r="2.3"/>
<circle cx="110.4" cy="459.8" r="2.3"/>
<circle cx="104.0" cy="465.6" r="2.3"/>
<circle cx="94.2" cy="472.0" r="2.3"/>
<circle cx="100.7" cy="472.2" r="2.3"/>
<circle cx="113.9" cy="472.0" r="2.3"/>
<circle cx="120.2" cy="470.8" r="2.3"/>
<circle cx="107.0" cy="476.6" r="2.3"/>
<circle cx="97.2" cy="480.5" r="2.3"/>
<circle cx="104.0" cy="483.2" r="2.3"/>
<circle cx="110.4" cy="482.0" r="2.3"/>
<circle cx="117.0" cy="480.3" r="2.3"/>
<circle cx="104.0" cy="490.6" r="2.3"/>
<circle cx="113.9" cy="494.6" r="2.3"/>
<circle cx="110.4" cy="498.4" r="2.3"/>
<circle cx="104.0" cy="504.4" r="2.3"/>
<circle cx="107.0" cy="513.0" r="2.3"/>
<circle cx="107.0" cy="525.7" r="2.3"/>
<circle cx="100.6" cy="533.4" r="2.3"/>
<circle cx="107.0" cy="533.8" r="2.3"/>
<circle cx="113.5" cy="530.5" r="2.3"/>
<circle cx="107.0" cy="547.0" r="2.3"/>
<circle cx="107.0" cy="556.7" r="2.3"/>
<circle cx="107.0" cy="568.6" r="2.3"/>
<circle cx="107.0" cy="598.6" r="2.3"/>
<circle cx="107.0" cy="623.0" r="2.3"/>
</g>
<g fill="#F00">
<path d="M162.2,620.2 L217.6,620.2 L217.6,624.6 L190,629.8 L189.4,629.8 L162.2,624.6 Z"/>
<circle cx="163.6" cy="622.6" r="2"/><circle cx="216.2" cy="622.6" r="2"/>
<circle cx="168" cy="618.6" r="2"/>
<circle cx="170.5" cy="620" r="2"/>
<circle cx="173.3" cy="619.8" r="2"/>
<circle cx="176" cy="620.2" r="2"/>
<circle cx="178.5" cy="619.8" r="2"/>
<circle cx="181" cy="620" r="2"/>
<circle cx="183.7" cy="617.8" r="2"/>
<circle cx="186" cy="619.4" r="2"/>
<circle cx="188.5" cy="619.4" r="2"/>
<circle cx="191" cy="620" r="2"/>
<circle cx="193" cy="619.5" r="2"/>
<circle cx="195.3" cy="618.2" r="2"/>
<circle cx="198" cy="619.8" r="2"/>
<circle cx="200.6" cy="619.8" r="2"/>
<circle cx="203.5" cy="620" r="2"/>
<circle cx="206.2" cy="619.4" r="2"/>
<circle cx="209" cy="620.2" r="2"/>
<circle cx="211.4" cy="618.6" r="2"/>
<circle cx="214" cy="620.2" r="2"/>
<circle cx="186.3" cy="613.2" r="2"/>
<circle cx="193.1" cy="612.8" r="2"/>
</g>
<text x="274.2" y="353.7" font-size="25" font-weight="bold" textLength="15.6" lengthAdjust="spacingAndGlyphs">C</text>
<rect x="286.2" y="392.0" width="510.9" height="2.2" fill="#000"/>
<rect x="388.1" y="427.9" width="409.0" height="2.2" fill="#000"/>
<rect x="286.2" y="464.5" width="510.9" height="2.2" fill="#000"/>
<rect x="286.2" y="500.4" width="510.9" height="2.2" fill="#000"/>
<rect x="286.2" y="536.3" width="510.9" height="2.2" fill="#000"/>
<rect x="286.2" y="572.3" width="510.9" height="2.2" fill="#000"/>
<rect x="286.2" y="608.2" width="510.9" height="2.2" fill="#000"/>
<rect x="286.2" y="392.0" width="2.2" height="218.4" fill="#000"/>
<rect x="388.1" y="392.0" width="2.2" height="218.4" fill="#000"/>
<rect x="611.1" y="392.0" width="2.2" height="218.4" fill="#000"/>
<rect x="794.9" y="392.0" width="2.2" height="218.4" fill="#000"/>
<rect x="528.1" y="427.9" width="2.2" height="182.5" fill="#000"/>
<rect x="693.8" y="427.9" width="2.2" height="182.5" fill="#000"/>
<text x="337.9" y="437" font-size="16" text-anchor="middle" textLength="31.2" lengthAdjust="spacingAndGlyphs" stroke="#000" stroke-width="0.25">scFv</text>
<text x="500.2" y="417.6" font-size="16" text-anchor="middle" textLength="53.8" lengthAdjust="spacingAndGlyphs" stroke="#000" stroke-width="0.25">CDR V<tspan font-size="11" dy="3.6">H</tspan></text>
<text x="704.1" y="417.6" font-size="16" text-anchor="middle" textLength="51.8" lengthAdjust="spacingAndGlyphs" stroke="#000" stroke-width="0.25">CDR V<tspan font-size="11" dy="3.6">L</tspan></text>
<text x="458.9" y="450.6" font-size="16" text-anchor="middle" textLength="58.0" lengthAdjust="spacingAndGlyphs" stroke="#000" stroke-width="0.25">CDR V<tspan font-size="11" dy="3.6">H2</tspan></text>
<text x="570.4" y="450.6" font-size="16" text-anchor="middle" textLength="57.6" lengthAdjust="spacingAndGlyphs" stroke="#000" stroke-width="0.25">CDR V<tspan font-size="11" dy="3.6">H3</tspan></text>
<text x="653.6" y="450.6" font-size="16" text-anchor="middle" textLength="56.0" lengthAdjust="spacingAndGlyphs" stroke="#000" stroke-width="0.25">CDR V<tspan font-size="11" dy="3.6">L2</tspan></text>
<text x="745.7" y="450.6" font-size="16" text-anchor="middle" textLength="55.3" lengthAdjust="spacingAndGlyphs" stroke="#000" stroke-width="0.25">CDR V<tspan font-size="11" dy="3.6">L3</tspan></text>
<text x="337.6" y="488.2" font-size="15.5" text-anchor="middle" textLength="30.6" lengthAdjust="spacingAndGlyphs" stroke="#000" stroke-width="0.3">AU1</text>
<text x="459.0" y="488.2" font-size="15.5" text-anchor="middle" textLength="110.8" lengthAdjust="spacingAndGlyphs" stroke="#000" stroke-width="0.3">TILQH<tspan fill="#F00000" stroke="#F00000">G</tspan>QR<tspan fill="#F00000" stroke="#F00000">T</tspan>LYA</text>
<text x="570.8" y="488.2" font-size="15.5" text-anchor="middle" textLength="42.3" lengthAdjust="spacingAndGlyphs" stroke="#000" stroke-width="0.3">NRAV</text>
<text x="653.6" y="488.2" font-size="15.5" text-anchor="middle" textLength="43.3" lengthAdjust="spacingAndGlyphs" stroke="#000" stroke-width="0.3">T<tspan fill="#F00000" stroke="#F00000">A</tspan><tspan fill="#F00000" stroke="#F00000">S</tspan>TL</text>
<text x="745.6" y="488.2" font-size="15.5" text-anchor="middle" textLength="57.9" lengthAdjust="spacingAndGlyphs" stroke="#000" stroke-width="0.3">YRQR<tspan fill="#F00000" stroke="#F00000">P</tspan>P</text>
<text x="337.6" y="524.1" font-size="15.5" text-anchor="middle" textLength="31.6" lengthAdjust="spacingAndGlyphs" stroke="#000" stroke-width="0.3">GU1</text>
<text x="459.0" y="524.1" font-size="15.5" text-anchor="middle" textLength="112.4" lengthAdjust="spacingAndGlyphs" stroke="#000" stroke-width="0.3">GISQL<tspan fill="#F00000" stroke="#F00000">G</tspan>GY<tspan fill="#F00000" stroke="#F00000">T</tspan>GYA</text>
<text x="570.8" y="524.1" font-size="15.5" text-anchor="middle" textLength="40.4" lengthAdjust="spacingAndGlyphs" stroke="#000" stroke-width="0.3">NRAT</text>
<text x="653.6" y="524.1" font-size="15.5" text-anchor="middle" textLength="48.5" lengthAdjust="spacingAndGlyphs" stroke="#000" stroke-width="0.3">A<tspan fill="#F00000" stroke="#F00000">A</tspan><tspan fill="#F00000" stroke="#F00000">S</tspan>HL</text>
<text x="745.6" y="524.1" font-size="15.5" text-anchor="middle" textLength="57.5" lengthAdjust="spacingAndGlyphs" stroke="#000" stroke-width="0.3">SQHK<tspan fill="#F00000" stroke="#F00000">P</tspan>L</text>
<text x="337.6" y="560.0" font-size="15.5" text-anchor="middle" textLength="27.1" lengthAdjust="spacingAndGlyphs" stroke="#000" stroke-width="0.3">JU1</text>
<text x="459.0" y="560.0" font-size="15.5" text-anchor="middle" textLength="113.3" lengthAdjust="spacingAndGlyphs" stroke="#000" stroke-width="0.3">RISAQ<tspan fill="#F00000" stroke="#F00000">G</tspan>NQ<tspan fill="#F00000" stroke="#F00000">T</tspan>RYS</text>
<text x="570.8" y="560.0" font-size="15.5" text-anchor="middle" textLength="34.8" lengthAdjust="spacingAndGlyphs" stroke="#000" stroke-width="0.3">KSSY</text>
<text x="653.6" y="560.0" font-size="15.5" text-anchor="middle" textLength="44.1" lengthAdjust="spacingAndGlyphs" stroke="#000" stroke-width="0.3">K<tspan fill="#F00000" stroke="#F00000">A</tspan><tspan fill="#F00000" stroke="#F00000">S</tspan>TL</text>
<text x="745.6" y="560.0" font-size="15.5" text-anchor="middle" textLength="60.1" lengthAdjust="spacingAndGlyphs" stroke="#000" stroke-width="0.3">WRTR<tspan fill="#F00000" stroke="#F00000">P</tspan>L</text>
<text x="337.6" y="596.0" font-size="15.5" text-anchor="middle" textLength="31.6" lengthAdjust="spacingAndGlyphs" stroke="#000" stroke-width="0.3">UU1</text>
<text x="459.0" y="596.0" font-size="15.5" text-anchor="middle" textLength="113.3" lengthAdjust="spacingAndGlyphs" stroke="#000" stroke-width="0.3">TISMS<tspan fill="#F00000" stroke="#F00000">G</tspan>KR<tspan fill="#F00000" stroke="#F00000">T</tspan>QYA</text>
<text x="570.8" y="596.0" font-size="15.5" text-anchor="middle" textLength="38.4" lengthAdjust="spacingAndGlyphs" stroke="#000" stroke-width="0.3">RHRY</text>
<text x="653.6" y="596.0" font-size="15.5" text-anchor="middle" textLength="45.0" lengthAdjust="spacingAndGlyphs" stroke="#000" stroke-width="0.3">R<tspan fill="#F00000" stroke="#F00000">A</tspan><tspan fill="#F00000" stroke="#F00000">S</tspan>KL</text>
<text x="745.6" y="596.0" font-size="15.5" text-anchor="middle" textLength="64.1" lengthAdjust="spacingAndGlyphs" stroke="#000" stroke-width="0.3">PGWR<tspan fill="#F00000" stroke="#F00000">P</tspan>K</text>
</svg></body></html>
